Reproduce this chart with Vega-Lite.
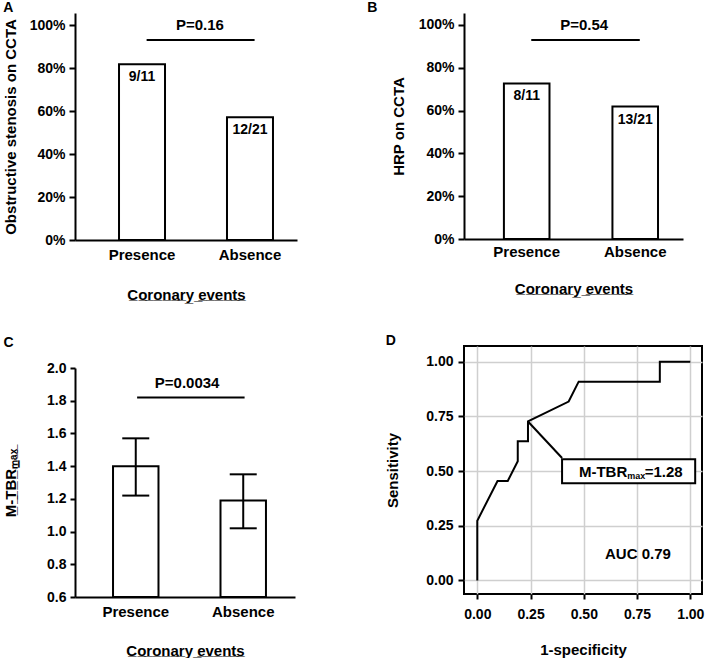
{
  "$schema": "https://vega.github.io/schema/vega-lite/v6.json",
  "background": "white",
  "padding": {"left": 3, "top": 1, "right": 0, "bottom": 0},
  "config": {
    "font": "Liberation Sans",
    "view": {"stroke": null},
    "axis": {"labelFont": "Liberation Sans", "titleFont": "Liberation Sans", "labelFontWeight": "bold", "titleFontWeight": "bold", "labelColor": "#000", "titleColor": "#000", "domainColor": "#000", "tickColor": "#000", "grid": false, "labelOverlap": false},
    "title": {"font": "Liberation Sans", "fontWeight": "bold", "fontSize": 14, "anchor": "start", "frame": "bounds", "color": "#000"},
    "text": {"font": "Liberation Sans", "fontWeight": "bold", "color": "#000"}
  },
  "spacing": 70,
  "hconcat": [
    {
      "bounds": "flush",
      "spacing": 128,
      "vconcat": [
        {
          "title": {"text": "A", "offset": -2},
          "width": 222,
          "height": 227,
          "data": {"values": [
            {"group": "Presence", "pct": 0.818, "label": "9/11"},
            {"group": "Absence", "pct": 0.571, "label": "12/21"}
          ]},
          "layer": [
            {
              "mark": {"type": "bar", "fill": "white", "stroke": "black", "strokeWidth": 2},
              "encoding": {
                "x": {"field": "group", "type": "nominal", "sort": ["Presence", "Absence"],
                  "scale": {"paddingInner": 0.574, "paddingOuter": 0.315, "align": 0.647},
                  "axis": {"labelAngle": 0, "labelFontSize": 15, "ticks": false, "tickSize": 0, "domainWidth": 2, "labelPadding": 7,
                    "title": "C\u0332o\u0332r\u0332o\u0332n\u0332a\u0332r\u0332y\u0332 \u0332e\u0332v\u0332e\u0332n\u0332t\u0332s\u0332", "titleFontSize": 15, "titlePadding": 25}},
                "y": {"field": "pct", "type": "quantitative", "scale": {"domain": [0, 1.056], "nice": false},
                  "axis": {"format": ".0%", "values": [0, 0.2, 0.4, 0.6, 0.8, 1], "tickCount": 10, "labelFontSize": 14, "tickSize": 6, "tickWidth": 2, "domainWidth": 2, "labelPadding": 4,
                    "title": "Obstructive stenosis on CCTA", "titleFontSize": 15, "titlePadding": 11}}
              }
            },
            {
              "mark": {"type": "text", "baseline": "top", "dy": 6, "fontSize": 14},
              "encoding": {
                "x": {"field": "group", "type": "nominal", "sort": ["Presence", "Absence"]},
                "y": {"field": "pct", "type": "quantitative"},
                "text": {"field": "label"}
              }
            },
            {
              "data": {"values": [{"group": "Presence", "y": 0.93}, {"group": "Absence", "y": 0.93}]},
              "mark": {"type": "line", "color": "black", "strokeWidth": 2},
              "encoding": {
                "x": {"field": "group", "type": "nominal", "sort": ["Presence", "Absence"], "bandPosition": 0.6},
                "y": {"field": "y", "type": "quantitative"}
              }
            },
            {
              "data": {"values": [{"group": "Presence", "y": 1.0, "t": "P=0.16"}]},
              "mark": {"type": "text", "fontSize": 15, "baseline": "middle"},
              "encoding": {
                "x": {"field": "group", "type": "nominal", "sort": ["Presence", "Absence"], "bandPosition": 1.76},
                "y": {"field": "y", "type": "quantitative"},
                "text": {"field": "t"}
              }
            }
          ]
        },
        {
          "title": {"text": "C", "offset": 11},
          "width": 220,
          "height": 229,
          "data": {"values": [
            {"group": "Presence", "mean": 1.40, "lo": 1.22, "hi": 1.57},
            {"group": "Absence", "mean": 1.19, "lo": 1.02, "hi": 1.35}
          ]},
          "layer": [
            {
              "mark": {"type": "bar", "fill": "white", "stroke": "black", "strokeWidth": 2},
              "encoding": {
                "x": {"field": "group", "type": "nominal", "sort": ["Presence", "Absence"],
                  "scale": {"paddingInner": 0.577, "paddingOuter": 0.312, "align": 0.567},
                  "axis": {"labelAngle": 0, "labelFontSize": 15, "ticks": false, "tickSize": 0, "domainWidth": 2, "labelPadding": 7,
                    "title": "C\u0332o\u0332r\u0332o\u0332n\u0332a\u0332r\u0332y\u0332 \u0332e\u0332v\u0332e\u0332n\u0332t\u0332s\u0332", "titleFontSize": 15, "titlePadding": 24}},
                "y": {"field": "mean", "type": "quantitative", "scale": {"domain": [0.6, 2.0], "nice": false, "zero": false},
                  "axis": {"format": ".1f", "values": [0.6, 0.8, 1.0, 1.2, 1.4, 1.6, 1.8, 2.0], "tickCount": 12, "labelFontSize": 14, "tickSize": 5, "tickWidth": 2, "domainWidth": 2, "labelPadding": 4,
                    "title": "M\u0332-\u0332T\u0332B\u0332R\u0332\u2098\u0332\u2090\u0332\u2093\u0332", "titleFontSize": 15, "titlePadding": 28}},
                "y2": {"datum": 0.6}
              }
            },
            {
              "mark": {"type": "rule", "color": "black", "strokeWidth": 2},
              "encoding": {
                "x": {"field": "group", "type": "nominal", "sort": ["Presence", "Absence"]},
                "y": {"field": "lo", "type": "quantitative"},
                "y2": {"field": "hi"}
              }
            },
            {
              "mark": {"type": "tick", "color": "black", "thickness": 2, "size": 27, "opacity": 1},
              "encoding": {
                "x": {"field": "group", "type": "nominal", "sort": ["Presence", "Absence"]},
                "y": {"field": "lo", "type": "quantitative"}
              }
            },
            {
              "mark": {"type": "tick", "color": "black", "thickness": 2, "size": 27, "opacity": 1},
              "encoding": {
                "x": {"field": "group", "type": "nominal", "sort": ["Presence", "Absence"]},
                "y": {"field": "hi", "type": "quantitative"}
              }
            },
            {
              "data": {"values": [{"group": "Presence", "y": 1.82}, {"group": "Absence", "y": 1.82}]},
              "mark": {"type": "line", "color": "black", "strokeWidth": 2},
              "encoding": {
                "x": {"field": "group", "type": "nominal", "sort": ["Presence", "Absence"], "bandPosition": 0.53},
                "y": {"field": "y", "type": "quantitative"}
              }
            },
            {
              "data": {"values": [{"group": "Presence", "y": 1.91, "t": "P=0.0034"}]},
              "mark": {"type": "text", "fontSize": 15, "baseline": "middle"},
              "encoding": {
                "x": {"field": "group", "type": "nominal", "sort": ["Presence", "Absence"], "bandPosition": 1.63},
                "y": {"field": "y", "type": "quantitative"},
                "text": {"field": "t"}
              }
            }
          ]
        }
      ]
    },
    {
      "bounds": "flush",
      "spacing": 107,
      "vconcat": [
        {
          "title": {"text": "B", "offset": -2, "dx": -24},
          "width": 219,
          "height": 226,
          "data": {"values": [
            {"group": "Presence", "pct": 0.727, "label": "8/11"},
            {"group": "Absence", "pct": 0.619, "label": "13/21"}
          ]},
          "layer": [
            {
              "mark": {"type": "bar", "fill": "white", "stroke": "black", "strokeWidth": 2},
              "encoding": {
                "x": {"field": "group", "type": "nominal", "sort": ["Presence", "Absence"],
                  "scale": {"paddingInner": 0.58, "paddingOuter": 0.299, "align": 0.615},
                  "axis": {"labelAngle": 0, "labelFontSize": 15, "ticks": false, "tickSize": 0, "domainWidth": 2, "labelPadding": 5,
                    "title": "C\u0332o\u0332r\u0332o\u0332n\u0332a\u0332r\u0332y\u0332 \u0332e\u0332v\u0332e\u0332n\u0332t\u0332s\u0332", "titleFontSize": 15, "titlePadding": 22}},
                "y": {"field": "pct", "type": "quantitative", "scale": {"domain": [0, 1.056], "nice": false},
                  "axis": {"format": ".0%", "values": [0, 0.2, 0.4, 0.6, 0.8, 1], "tickCount": 10, "labelFontSize": 14, "tickSize": 6, "tickWidth": 2, "domainWidth": 2, "labelPadding": 4,
                    "title": "HRP on CCTA", "titleFontSize": 15, "titlePadding": 12}}
              }
            },
            {
              "mark": {"type": "text", "baseline": "top", "dy": 6, "fontSize": 14},
              "encoding": {
                "x": {"field": "group", "type": "nominal", "sort": ["Presence", "Absence"]},
                "y": {"field": "pct", "type": "quantitative"},
                "text": {"field": "label"}
              }
            },
            {
              "data": {"values": [{"group": "Presence", "y": 0.93}, {"group": "Absence", "y": 0.93}]},
              "mark": {"type": "line", "color": "black", "strokeWidth": 2},
              "encoding": {
                "x": {"field": "group", "type": "nominal", "sort": ["Presence", "Absence"], "bandPosition": 0.6},
                "y": {"field": "y", "type": "quantitative"}
              }
            },
            {
              "data": {"values": [{"group": "Presence", "y": 1.0, "t": "P=0.54"}]},
              "mark": {"type": "text", "fontSize": 15, "baseline": "middle"},
              "encoding": {
                "x": {"field": "group", "type": "nominal", "sort": ["Presence", "Absence"], "bandPosition": 1.76},
                "y": {"field": "y", "type": "quantitative"},
                "text": {"field": "t"}
              }
            }
          ]
        },
        {
          "title": {"text": "D", "offset": -2},
          "width": 238,
          "height": 248,
          "view": {"stroke": "black", "strokeWidth": 2},
          "layer": [
            {
              "data": {"values": [
                {"i": 0, "fpr": 0.0, "tpr": 0.0},
                {"i": 1, "fpr": 0.0, "tpr": 0.273},
                {"i": 2, "fpr": 0.095, "tpr": 0.455},
                {"i": 3, "fpr": 0.143, "tpr": 0.455},
                {"i": 4, "fpr": 0.19, "tpr": 0.545},
                {"i": 5, "fpr": 0.19, "tpr": 0.636},
                {"i": 6, "fpr": 0.238, "tpr": 0.636},
                {"i": 7, "fpr": 0.238, "tpr": 0.727},
                {"i": 8, "fpr": 0.429, "tpr": 0.818},
                {"i": 9, "fpr": 0.476, "tpr": 0.909},
                {"i": 10, "fpr": 0.857, "tpr": 0.909},
                {"i": 11, "fpr": 0.857, "tpr": 1.0},
                {"i": 12, "fpr": 1.0, "tpr": 1.0}
              ]},
              "mark": {"type": "line", "color": "black", "strokeWidth": 2},
              "encoding": {
                "x": {"field": "fpr", "type": "quantitative", "scale": {"domain": [-0.0624, 1.055], "nice": false, "zero": false},
                  "axis": {"values": [0, 0.25, 0.5, 0.75, 1], "format": ".2f", "domain": false, "labelFontSize": 14, "tickSize": 5, "tickWidth": 2, "labelPadding": 8,
                    "grid": true, "gridColor": "#cfcfcf", "gridWidth": 1.5,
                    "title": "1-specificity", "titleFontSize": 15, "titlePadding": 21}},
                "y": {"field": "tpr", "type": "quantitative", "scale": {"domain": [-0.062, 1.072], "nice": false, "zero": false},
                  "axis": {"values": [0, 0.25, 0.5, 0.75, 1], "format": ".2f", "domain": false, "labelFontSize": 14, "tickSize": 6, "tickWidth": 2, "labelPadding": 5,
                    "grid": true, "gridColor": "#cfcfcf", "gridWidth": 1.5,
                    "title": "Sensitivity", "titleFontSize": 15, "titlePadding": 25}},
                "order": {"field": "i"}
              }
            },
            {
              "data": {"values": [{"i": 0, "x": 0.238, "y": 0.727}, {"i": 1, "x": 0.398, "y": 0.56}]},
              "mark": {"type": "line", "color": "black", "strokeWidth": 2},
              "encoding": {
                "x": {"field": "x", "type": "quantitative"},
                "y": {"field": "y", "type": "quantitative"},
                "order": {"field": "i"}
              }
            },
            {
              "data": {"values": [{"x": 0.398, "x2": 1.023, "y": 0.444, "y2": 0.554}]},
              "mark": {"type": "rect", "fill": "white", "stroke": "black", "strokeWidth": 2},
              "encoding": {
                "x": {"field": "x", "type": "quantitative"},
                "x2": {"field": "x2"},
                "y": {"field": "y", "type": "quantitative"},
                "y2": {"field": "y2"}
              }
            },
            {
              "data": {"values": [{"x": 0.704, "y": 0.496, "t": "M-TBR"}]},
              "mark": {"type": "text", "fontSize": 15, "align": "right", "baseline": "middle"},
              "encoding": {
                "x": {"field": "x", "type": "quantitative"},
                "y": {"field": "y", "type": "quantitative"},
                "text": {"field": "t"}
              }
            },
            {
              "data": {"values": [{"x": 0.704, "y": 0.477, "t": "max"}]},
              "mark": {"type": "text", "fontSize": 9, "align": "left", "baseline": "middle"},
              "encoding": {
                "x": {"field": "x", "type": "quantitative"},
                "y": {"field": "y", "type": "quantitative"},
                "text": {"field": "t"}
              }
            },
            {
              "data": {"values": [{"x": 0.786, "y": 0.496, "t": "=1.28"}]},
              "mark": {"type": "text", "fontSize": 15, "align": "left", "baseline": "middle"},
              "encoding": {
                "x": {"field": "x", "type": "quantitative"},
                "y": {"field": "y", "type": "quantitative"},
                "text": {"field": "t"}
              }
            },
            {
              "data": {"values": [{"x": 0.754, "y": 0.12, "t": "AUC 0.79"}]},
              "mark": {"type": "text", "fontSize": 15, "align": "center", "baseline": "middle"},
              "encoding": {
                "x": {"field": "x", "type": "quantitative"},
                "y": {"field": "y", "type": "quantitative"},
                "text": {"field": "t"}
              }
            }
          ]
        }
      ]
    }
  ]
}
